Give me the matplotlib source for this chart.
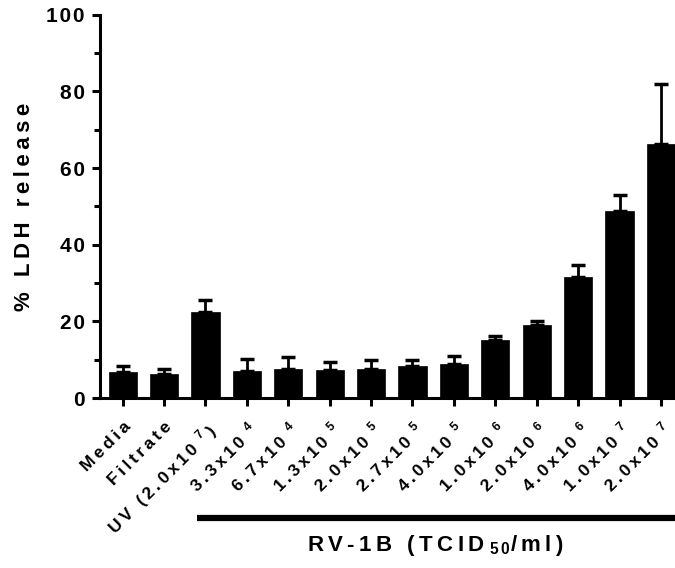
import matplotlib
matplotlib.use("Agg")
import matplotlib.pyplot as plt
import matplotlib.transforms as mtransforms
import numpy as np

plt.rcParams['font.family'] = ['Liberation Sans', 'DejaVu Sans']
plt.rcParams['font.weight'] = 'bold'
plt.rcParams['mathtext.fontset'] = 'custom'
plt.rcParams['mathtext.rm'] = 'Liberation Sans'
plt.rcParams['mathtext.bf'] = 'Liberation Sans:bold'

# data
bases = ["Media", "Filtrate", "UV (2.0x10", "3.3x10", "6.7x10", "1.3x10", "2.0x10",
         "2.7x10", "4.0x10", "1.0x10", "2.0x10", "4.0x10", "1.0x10", "2.0x10"]
exps = ["", "", "7", "4", "4", "5", "5", "5", "5", "6", "6", "6", "7", "7"]
means = [6.8, 6.3, 22.4, 7.0, 7.5, 7.3, 7.7, 8.4, 8.8, 15.1, 19.2, 31.5, 48.8, 66.2]
sems = [1.6, 1.2, 3.2, 3.3, 3.2, 2.2, 2.3, 1.5, 2.3, 1.1, 0.8, 3.2, 4.1, 15.8]


def spaced(s, gap="\u2009"):
    return gap.join(s)


labels = []
for b, e in zip(bases, exps):
    lab = spaced(b)
    if e:
        lab += r"$^{\rm \ \ " + e + "}$"
    if b.startswith("UV"):
        lab += "\u2009)"
    labels.append(lab)

fig = plt.figure(figsize=(6.75, 5.68), dpi=100)
ax = fig.add_axes([0.148, 0.299, 0.852, 0.675])

x = np.arange(len(means))
ax.bar(x, means, width=0.68, color="black", edgecolor="black", linewidth=0.5, zorder=2)
ax.errorbar(x, means, yerr=[np.zeros(len(sems)), sems], fmt="none", ecolor="black",
            elinewidth=2.0, capsize=5, capthick=2.5, zorder=1)

ax.set_xlim(-0.55, 13.34)
ax.set_ylim(0, 100)
ax.set_yticks(np.arange(0, 101, 20))
ax.set_yticks(np.arange(10, 100, 20), minor=True)
ax.set_yticklabels([spaced(str(v), "\u200a") for v in range(0, 101, 20)],
                   fontsize=15, fontweight="bold")
ax.set_xticks(x)
ax.set_xticklabels(labels, rotation=45, ha="right", rotation_mode="anchor",
                   fontsize=12.5, fontweight="bold")

for s in ["top", "right"]:
    ax.spines[s].set_visible(False)
for s in ["left", "bottom"]:
    ax.spines[s].set_linewidth(2.2)
ax.tick_params(axis="both", which="major", length=6, width=2.2)
ax.tick_params(axis="y", which="minor", length=4, width=2.2)
ax.tick_params(axis="x", pad=9)
ax.tick_params(axis="y", pad=5)

ax.set_ylabel(spaced("% LDH release"), fontsize=16, fontweight="bold", labelpad=8)

# group bar under the RV-1B doses
trans = mtransforms.blended_transform_factory(ax.transData, ax.transAxes)
ax.plot([1.79, 13.4], [-0.313, -0.313], color="black", linewidth=4.5,
        transform=trans, clip_on=False, solid_capstyle="butt")
ax.text(7.55, -0.385, spaced("RV-1B (TCID") + r"$_{\bf \ 5\,0}$" + spaced("/ml)"),
        transform=trans, ha="center", va="center", fontsize=16, fontweight="bold")

fig.savefig("out.png", dpi=100)
